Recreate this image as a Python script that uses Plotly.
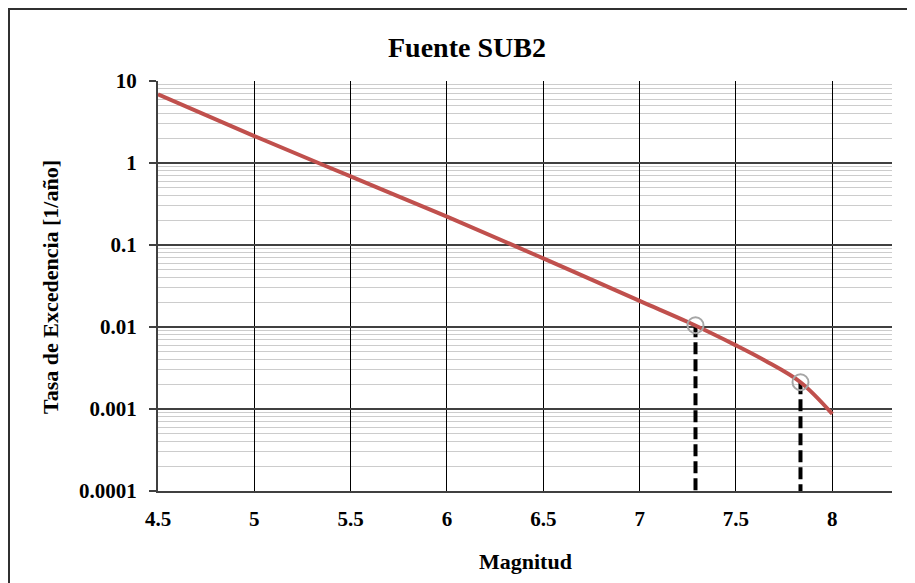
import plotly.graph_objects as go

# Data
magnitud = [4.5, 5.0, 5.5, 6.0, 6.5, 7.0, 7.25, 7.5, 7.65, 7.835, 8.0]
tasa = [6.88, 2.13, 0.686, 0.222, 0.0687, 0.0208, 0.0115, 0.00597, 0.0039, 0.00212, 0.00087]

marker_m = [7.29, 7.835]
marker_t = [0.0105, 0.00212]
base_t = 0.0001

x_ticks = [4.5, 5, 5.5, 6, 6.5, 7, 7.5, 8]
x_tick_labels = ["4.5", "5", "5.5", "6", "6.5", "7", "7.5", "8"]
y_ticks = [0.0001, 0.001, 0.01, 0.1, 1, 10]
y_tick_labels = ["0.0001", "0.001", "0.01", "0.1", "1", "10"]

FONT = "Liberation Serif, Times New Roman, serif"

fig = go.Figure()

# dashed vertical guides
for m, t in zip(marker_m, marker_t):
    fig.add_trace(go.Scatter(
        x=[m, m], y=[t, base_t], mode="lines",
        line=dict(color="black", width=4, dash="12px,5px"),
        showlegend=False, hoverinfo="skip"))

fig.add_trace(go.Scatter(
    x=magnitud, y=tasa, mode="lines",
    line=dict(color="#C0504D", width=4, shape="spline"),
    showlegend=False))

fig.add_trace(go.Scatter(
    x=marker_m, y=marker_t, mode="markers",
    marker=dict(symbol="circle-open", size=16, color="#A6A6A6",
                line=dict(width=2, color="#A6A6A6")),
    showlegend=False))

OFF = 8  # browser body margin
W, H = 915 - OFF, 583 - OFF
L, T = 158 - OFF, 81 - OFF
pw, ph = 734, 410
R, B = W - L - pw, H - T - ph

def px_x(p):
    return (p - OFF - L) / pw

def px_y(p):
    return 1 - (p - OFF - T) / ph

fig.update_layout(
    width=W, height=H,
    margin=dict(l=L, r=R, t=T, b=B, autoexpand=False),
    paper_bgcolor="white", plot_bgcolor="white",
    font=dict(family=FONT, color="black"),
    showlegend=False,
    xaxis=dict(
        range=[4.5, 8.31], tickvals=x_ticks, ticktext=x_tick_labels,
        showgrid=True, gridcolor="black", gridwidth=1,
        showline=True, linecolor="#404040", linewidth=2,
        ticks="", zeroline=False, automargin=False,
        tickfont=dict(family=FONT, size=21, color="black", weight="bold"),
        ticklabelstandoff=8,
    ),
    yaxis=dict(
        type="log", range=[-4, 1], tickvals=y_ticks, ticktext=y_tick_labels,
        showgrid=True, gridcolor="#404040", gridwidth=1.5,
        showline=True, linecolor="#404040", linewidth=2,
        ticks="outside", ticklen=7, tickcolor="#404040", tickwidth=1.5,
        zeroline=False, automargin=False,
        tickfont=dict(family=FONT, size=21, color="black", weight="bold"),
        ticklabelstandoff=8,
        minor=dict(dtick="D1", showgrid=True, gridcolor="#CCCCCC", gridwidth=1, ticks=""),
    ),
)

fig.add_annotation(
    text="<b>Fuente SUB2</b>", xref="paper", yref="paper",
    x=px_x(467), y=px_y(48), showarrow=False,
    font=dict(family=FONT, size=28, color="black"),
    xanchor="center", yanchor="middle")

fig.add_annotation(
    text="<b>Magnitud</b>", xref="paper", yref="paper",
    x=px_x(525), y=px_y(561), showarrow=False,
    font=dict(family=FONT, size=22, color="black"),
    xanchor="center", yanchor="middle")

fig.add_annotation(
    text="<b>Tasa de Excedencia [1/año]</b>", xref="paper", yref="paper",
    x=px_x(50), y=px_y(287), showarrow=False, textangle=-90,
    font=dict(family=FONT, size=22, color="black"),
    xanchor="center", yanchor="middle")

# outer chart-area border (top and left visible, rest cropped)
fig.add_shape(type="rect", xref="paper", yref="paper",
              x0=px_x(9), y0=px_y(640), x1=px_x(980), y1=px_y(9),
              line=dict(color="#303030", width=2), layer="below")

fig.write_html("out.html")
